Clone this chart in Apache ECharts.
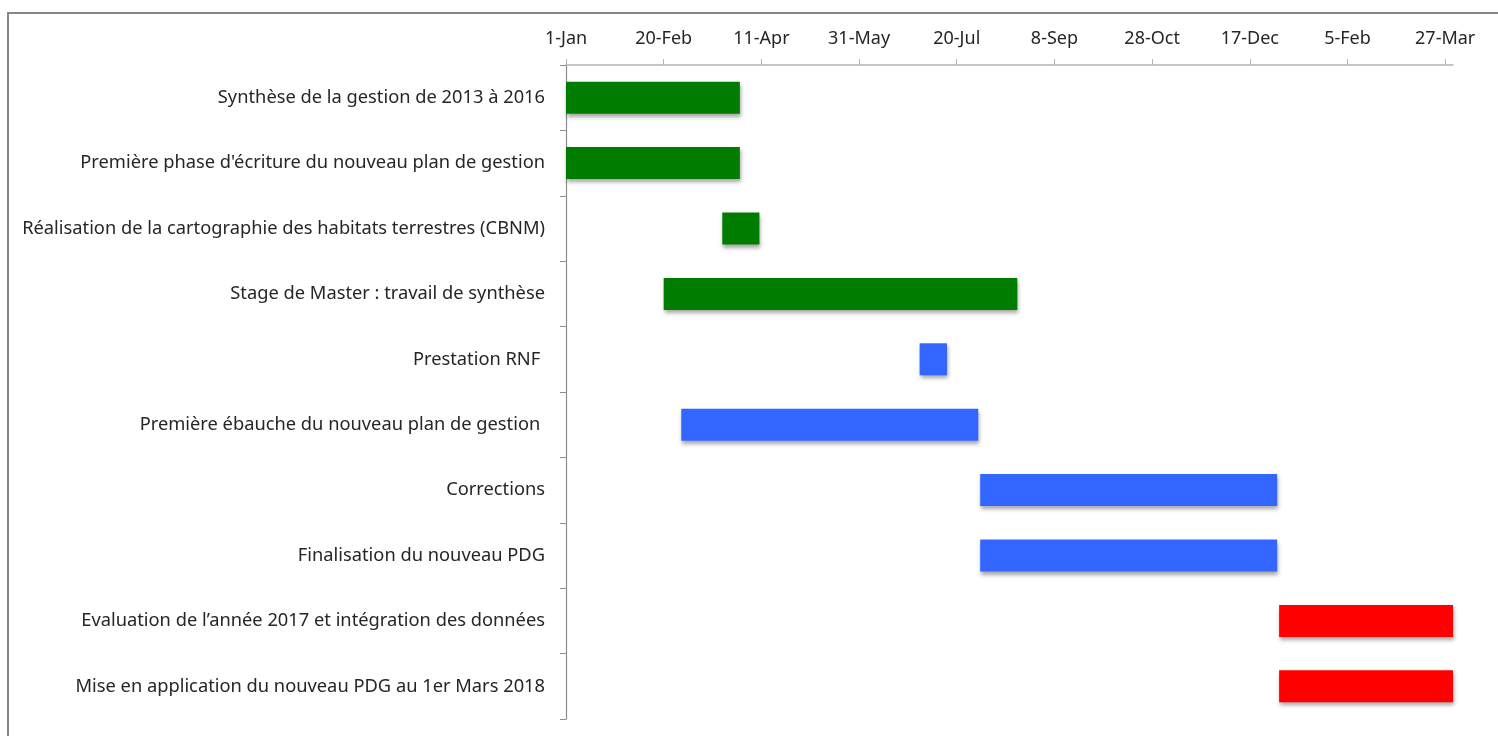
<!DOCTYPE html>
<html>
<head>
<meta charset="utf-8">
<title>Planning</title>
<script src="https://cdn.jsdelivr.net/npm/echarts@6/dist/echarts.min.js"></script>
<style>
  html, body { margin: 0; padding: 0; background: #fff; }
  #chart { width: 1498px; height: 736px; }
</style>
</head>
<body>
<div id="chart"></div>
<script>
// taches, de haut en bas
var tasks = [
  'Synthèse de la gestion de 2013 à 2016',
  "Première phase d'écriture du nouveau plan de gestion",
  'Réalisation de la cartographie des habitats terrestres (CBNM)',
  'Stage de Master : travail de synthèse',
  'Prestation RNF ',
  'Première ébauche du nouveau plan de gestion ',
  'Corrections',
  'Finalisation du nouveau PDG',
  'Evaluation de l\u2019année 2017 et intégration des données',
  'Mise en application du nouveau PDG au 1er Mars 2018'
]
var startDates = [
  '2017-01-01', '2017-01-01', '2017-03-22', '2017-02-20', '2017-07-01',
  '2017-03-01', '2017-08-01', '2017-08-01', '2018-01-01', '2018-01-01'
]
var endDates = [
  '2017-03-31', '2017-03-31', '2017-04-10', '2017-08-20', '2017-07-15',
  '2017-07-31', '2017-12-31', '2017-12-31', '2018-03-31', '2018-03-31'
]
// 0 = vert, 1 = bleu, 2 = rouge
var phases = [0, 0, 0, 0, 1, 1, 1, 1, 2, 2]
var phaseColors = ['#007d00', '#3366ff', '#ff0000']

var axisStart = '2017-01-01'
var axisEnd = '2018-03-31'
// graduations tous les 50 jours
var tickDays = [0, 50, 100, 150, 200, 250, 300, 350, 400, 450]

var DAY = 24 * 3600 * 1000
var MONTHS = ['Jan', 'Feb', 'Mar', 'Apr', 'May', 'Jun', 'Jul', 'Aug', 'Sep', 'Oct', 'Nov', 'Dec']
var t0 = Date.parse(axisStart + 'T00:00:00Z')
function toDay(s) {
  return Math.round((Date.parse(s + 'T00:00:00Z') - t0) / DAY)
}
function fmtDay(v) {
  var d = new Date(t0 + v * DAY)
  return d.getUTCDate() + '-' + MONTHS[d.getUTCMonth()]
}

var offsets = startDates.map(toDay)
var durations = endDates.map(function (e, i) { return toDay(e) - offsets[i] })

var chart = echarts.init(document.getElementById('chart'))
var font = 'Noto Sans'
var option = {
  animation: false,
  backgroundColor: '#fff',
  graphic: [{
    type: 'rect',
    shape: { x: 8, y: 13, width: 1500, height: 800 },
    style: { fill: 'none', stroke: '#878787', lineWidth: 2 },
    silent: true
  }],
  grid: {
    left: 566,
    top: 65,
    width: 887,
    bottom: 17
  },
  xAxis: {
    type: 'value',
    position: 'top',
    min: 0,
    max: toDay(axisEnd),
    axisLine: { show: true, lineStyle: { color: '#b4b4b4', width: 1.5 } },
    axisTick: { show: true, length: 6, lineStyle: { color: '#b4b4b4' }, customValues: tickDays },
    splitLine: { show: false },
    axisLabel: {
      customValues: tickDays,
      formatter: fmtDay,
      margin: 17,
      fontFamily: font,
      fontSize: 18,
      color: '#262626'
    }
  },
  yAxis: {
    type: 'category',
    inverse: true,
    data: tasks,
    axisLine: { show: true, lineStyle: { color: '#8c8c8c', width: 1.2 } },
    axisTick: { show: true, length: 6, lineStyle: { color: '#8c8c8c' } },
    axisLabel: {
      margin: 21,
      fontFamily: font,
      fontSize: 18.3,
      color: '#262626'
    }
  },
  series: [
    {
      type: 'bar',
      stack: 'g',
      silent: true,
      itemStyle: { color: 'transparent' },
      barWidth: 32,
      data: offsets
    },
    {
      type: 'bar',
      stack: 'g',
      barWidth: 32,
      data: durations.map(function (v, i) {
        return {
          value: v,
          itemStyle: {
            color: phaseColors[phases[i]],
            shadowColor: 'rgba(0,0,0,0.35)',
            shadowBlur: 4,
            shadowOffsetX: 1,
            shadowOffsetY: 3
          }
        }
      })
    }
  ]
}
chart.setOption(option)
</script>
</body>
</html>
